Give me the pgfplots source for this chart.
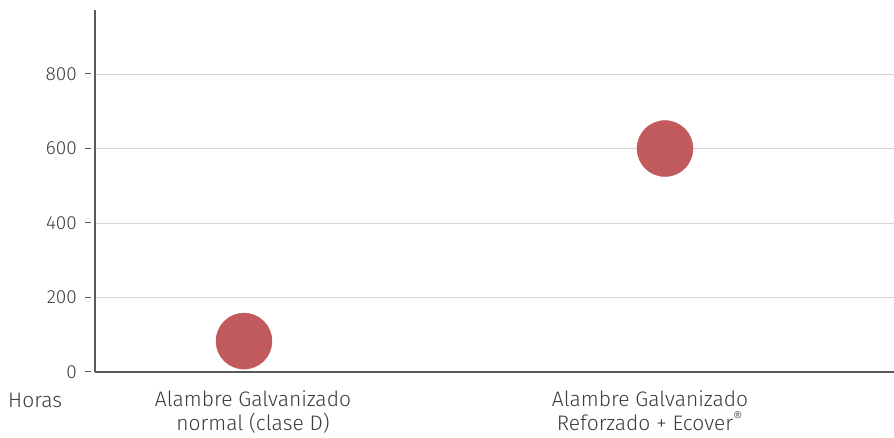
\documentclass[border=0pt]{standalone}
\usepackage{fontspec}
\setmainfont{Fira Sans Light}
\usepackage{pgfplots}
\pgfplotsset{compat=1.18}
\definecolor{axisgray}{HTML}{5A5A5A}
\definecolor{gridgray}{HTML}{D6D6D6}
\definecolor{textgray}{HTML}{3C3C3C}
\definecolor{dotred}{HTML}{C05A5C}
\begin{document}
\begin{tikzpicture}[font=\fontsize{21}{23}\selectfont]
\useasboundingbox (0,0) rectangle (894pt,437pt);
\begin{axis}[
  at={(95pt,65pt)}, anchor=south west,
  scale only axis, width=799pt, height=362pt,
  xmin=95, xmax=894, ymin=0, ymax=972,
  axis x line=bottom, axis y line=left,
  axis line style={-, draw=axisgray, line width=2pt},
  xtick={253,650},
  xticklabels={{Alambre Galvanizado\\normal (clase D)},{Alambre Galvanizado\\Reforzado + Ecover\textsuperscript{®}}},
  xticklabel style={align=center, text=textgray, font=\fontsize{21}{24}\selectfont, yshift=-15pt},
  ytick={0,200,400,600,800},
  ymajorgrids, grid style={draw=gridgray, line width=1pt},
  major tick length=0pt, tick style={draw=none},
  yticklabel={\pgfmathprintnumber{\tick}\hspace{8pt}{\color{axisgray}\rule[0.33em]{6pt}{1pt}}},
  yticklabel style={text=textgray, font=\fontsize{19}{23}\selectfont, inner xsep=0pt, xshift=-4pt},
  /pgf/number format/assume math mode=true,
  clip=false,
]
\addplot[only marks, color=dotred, mark=*, mark size=28pt, mark options={fill=dotred, draw=dotred}] coordinates {(244,83) (665,600)};
\end{axis}
\node[anchor=west, text=textgray, inner sep=0pt] at (8pt,37pt) {Horas};
\end{tikzpicture}
\end{document}
